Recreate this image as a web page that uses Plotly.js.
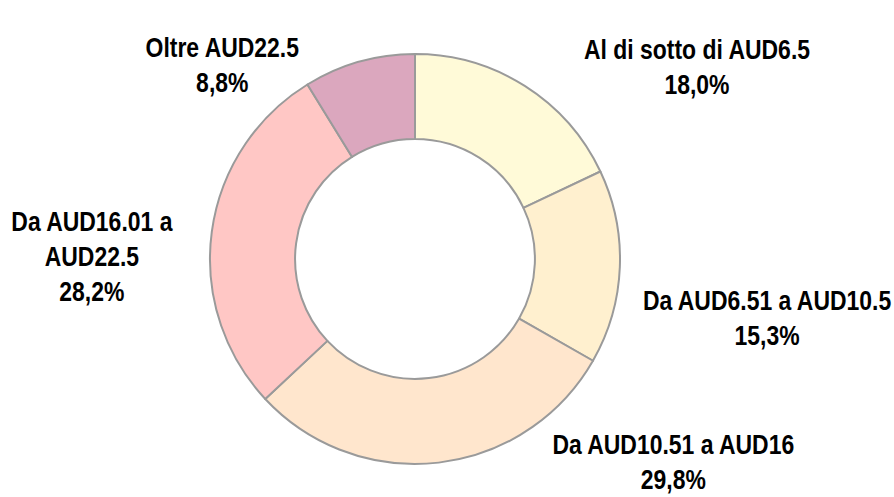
<!DOCTYPE html>
<html>
<head>
<meta charset="utf-8">
<script src="https://cdn.plot.ly/plotly-3.0.1.min.js"></script>
<style>html,body{margin:0;padding:0;background:#fff;}#chart{width:894px;height:497px;}</style>
</head>
<body>
<div id="chart"></div>
<script>
const categories = ["Al di sotto di AUD6.5", "Da AUD6.51 a AUD10.5", "Da AUD10.51 a AUD16", "Da AUD16.01 a AUD22.5", "Oltre AUD22.5"];
const displayLabels = ["Al di sotto di AUD6.5", "Da AUD6.51 a AUD10.5", "Da AUD10.51 a AUD16", "Da AUD16.01 a<br>AUD22.5", "Oltre AUD22.5"];
const shares = [18.0, 15.3, 29.8, 28.2, 8.8];
const sliceColors = ["#FFFAD8", "#FFF0CF", "#FFE6CD", "#FFC7C5", "#DBA7BE"];

// label anchor positions in pixels (center of text block)
const labelPos = [[697, 67], [767, 318], [673, 462], [92, 257], [222, 66]];

const W = 894, H = 497;
const cx = 415, cy = 259, R = 205;
const condense = 0.85;

const trace = {
  type: "pie",
  labels: categories,
  values: shares,
  sort: false,
  direction: "clockwise",
  rotation: 0,
  hole: 0.585,
  textinfo: "none",
  hoverinfo: "label+percent",
  marker: { colors: sliceColors, line: { color: "#9a9a9a", width: 2 } },
  domain: { x: [(cx - R) / W, (cx + R) / W], y: [(H - cy - R) / H, (H - cy + R) / H] },
  showlegend: false
};

const fmt = v => v.toFixed(1).replace(".", ",") + "%";
const annotations = categories.map((c, i) => ({
  x: labelPos[i][0] / W,
  y: 1 - labelPos[i][1] / H,
  xref: "paper", yref: "paper",
  xanchor: "center", yanchor: "middle",
  showarrow: false,
  align: "center",
  text: "<b>" + displayLabels[i] + "<br>" + fmt(shares[i]) + "</b>",
  font: { family: "Liberation Sans, Arial, sans-serif", size: 27, color: "#000" }
}));

Plotly.newPlot("chart", [trace], {
  width: W, height: H,
  margin: { l: 0, r: 0, t: 0, b: 0 },
  paper_bgcolor: "#fff",
  annotations: annotations
}, { displayModeBar: false }).then(() => {
  // horizontally condense label text around each label's centre
  document.querySelectorAll("#chart text.annotation-text").forEach(t => {
    const bb = t.getBBox();
    const mx = bb.x + bb.width / 2;
    t.setAttribute("transform", `translate(${mx},0) scale(${condense},1) translate(${-mx},0)`);
  });
});
</script>
</body>
</html>
